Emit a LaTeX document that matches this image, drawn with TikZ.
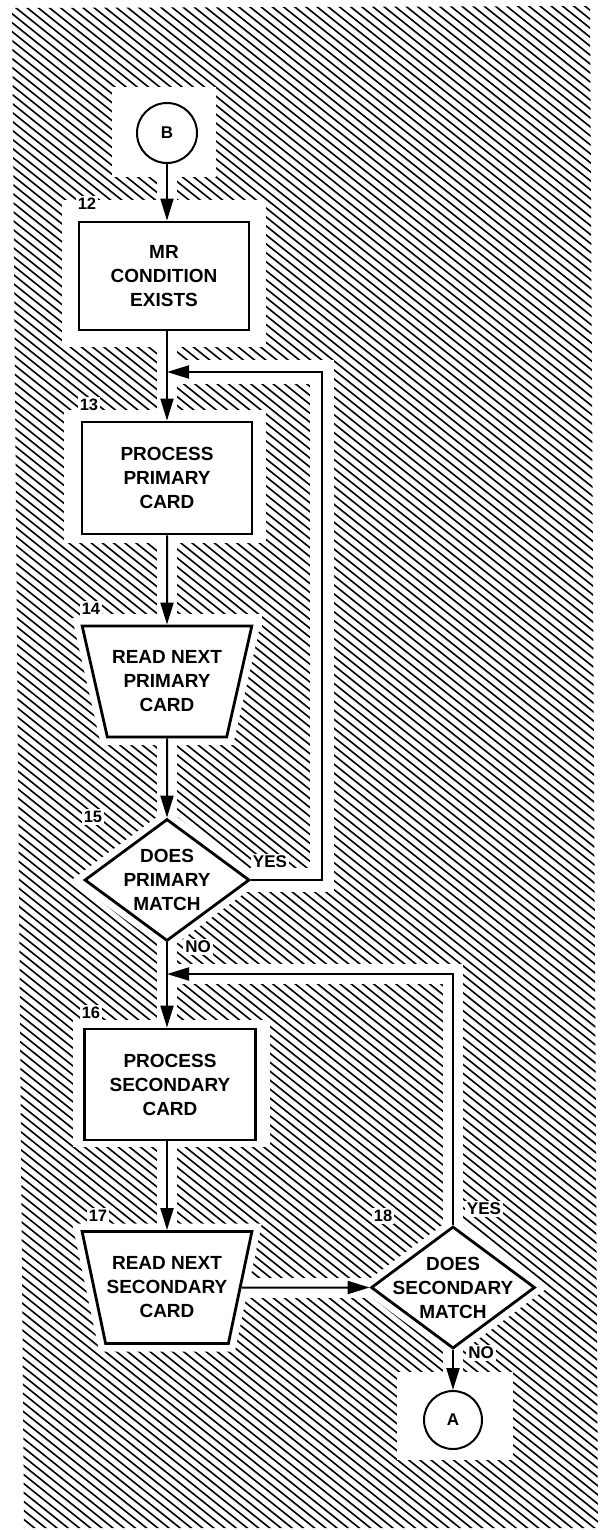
\documentclass[tikz,border=0pt]{standalone}
\usepackage{fontspec}
\setmainfont{Liberation Sans}
\usetikzlibrary{arrows.meta,shapes.geometric,calc}
\pgfdeclarelayer{hatchlayer}
\pgfdeclarelayer{halolayer}
\pgfsetlayers{hatchlayer,halolayer,main}
\begin{document}
\begin{tikzpicture}[x=1pt,y=-1pt,
  boxfont/.style={font=\fontsize{19}{24}\selectfont\bfseries},
  proc/.style={rectangle, draw, line width=2.8pt, fill=white, minimum width=170pt, minimum height=111pt, align=center, inner sep=0pt, boxfont},
  io/.style={trapezium, shape border rotate=180, trapezium angle=69.3, trapezium stretches=true, draw, line width=2.8pt, fill=white, minimum width=170pt, minimum height=111pt, align=center, inner sep=0pt, boxfont, preaction={draw=white, line width=16pt}},
  dec/.style={diamond, draw, line width=2.8pt, fill=white, minimum width=165pt, minimum height=122pt, inner sep=0pt, preaction={draw=white, line width=16pt}},
  dectext/.style={align=center, inner sep=0pt, boxfont},
  term/.style={circle, draw, line width=2pt, fill=white, minimum size=60pt, inner sep=0pt, font=\fontsize{17}{17}\selectfont\bfseries},
  num/.style={fill=white, inner sep=2pt, font=\fontsize{16.5}{16.5}\selectfont\bfseries},
  yn/.style={fill=white, inner sep=2pt, font=\fontsize{17}{17}\selectfont\bfseries},
  conn/.style={draw, line width=2pt, -{Triangle[length=22pt,width=13pt]}},
  halo/.style={draw=white, line width=20pt},
  halowide/.style={draw=white, line width=24pt},
]
\useasboundingbox (0,0) rectangle (602,1530);

% ---------- nodes ----------
\node[term] (bB) at (167,133) {B};
\node[proc, minimum height=108pt] (b12) at (164,276) {MR\\CONDITION\\EXISTS};
\node[proc, minimum height=112pt] (b13) at (167,478) {PROCESS\\PRIMARY\\CARD};
\node[io] (t14) at (167,681.5) {READ NEXT\\PRIMARY\\CARD};
\node[dec] (d15) at (167,880) {};
\node[dectext] (d15t) at (d15) {DOES\\PRIMARY\\MATCH};
\node[proc, minimum width=171pt] (b16) at (170,1084.5) {PROCESS\\SECONDARY\\CARD};
\node[io, minimum height=112pt] (t17) at (167,1287.5) {READ NEXT\\SECONDARY\\CARD};
\node[dec, minimum width=164pt] (d18) at (453,1287.5) {};
\node[dectext] (d18t) at (d18) {DOES\\SECONDARY\\MATCH};
\node[term, minimum size=58pt] (aA) at (453,1420) {A};

\coordinate (c1) at (322,372);
\coordinate (m1) at (167,372);
\coordinate (m2) at (167,974);

% ---------- labels ----------
\node[num] (l12) at (87,204) {12};
\node[num] (l13) at (89,405) {13};
\node[num] (l14) at (91,609) {14};
\node[num] (l15) at (93,817) {15};
\node[yn]  (y15) at (270,862) {YES};
\node[yn]  (n15) at (198,947) {NO};
\node[num] (l16) at (91,1013) {16};
\node[num] (l17) at (98,1216) {17};
\node[num] (l18) at (383,1216) {18};
\node[yn]  (y18) at (484,1209) {YES};
\node[yn]  (n18) at (481,1353) {NO};

% ---------- connectors ----------
\draw[conn] (bB) -- (bB |- b12.north);
\draw[conn] (bB |- b12.south) -- (b13.north);
\draw[conn] (b13) -- (t14);
\draw[conn] (t14) -- (d15);
\draw[conn] (d15.south) -- (d15.south |- b16.north);
\draw[conn] (t17.north |- b16.south) -- (t17.north);
\draw[conn] (t17) -- (d18);
\draw[conn] (d18) -- (aA);
\draw[conn] (d15.east) -| (c1) -- (m1);
\draw[conn] (d18.north) |- (m2);

% ---------- white cut-outs in the hatching ----------
\begin{pgfonlayer}{halolayer}
  \fill[white] (112,87) rectangle (216,177);
  \fill[white] (62,200) rectangle (266,347);
  \fill[white] (64,410) rectangle (266,543);
  \fill[white] (80,614) rectangle (262,630);
  \fill[white] (73,1020) rectangle (270,1147);
  \fill[white] (397,1372) rectangle (513,1460);
  \draw[halo] (bB.center) -- (t17.center);
  \draw[halowide] (d15.center) -| (c1) -- (m1);
  \draw[halo] (d18.center) |- (m2);
  \draw[halo] (t17.center) -- (d18.center);
  \draw[halo] (d18.center) -- (aA.center);
\end{pgfonlayer}

% ---------- hatched background ----------
\begin{pgfonlayer}{hatchlayer}
  \begin{scope}
    \clip (12,8) -- (590,6) -- (598,1528) -- (24,1528) -- cycle;
    \foreach \i in {0,...,234} {
      \draw[line width=1.6pt] ({-2000+\i*11.2},-10) -- ++(2000,1600);
    }
  \end{scope}
\end{pgfonlayer}
\end{tikzpicture}
\end{document}
